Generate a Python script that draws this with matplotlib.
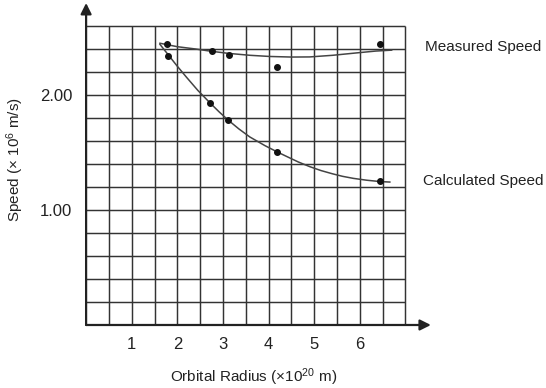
import matplotlib
matplotlib.use("Agg")
import matplotlib.pyplot as plt
import numpy as np

plt.rcParams["font.family"] = ["Liberation Sans", "DejaVu Sans"]
plt.rcParams["mathtext.fontset"] = "custom"
plt.rcParams["mathtext.rm"] = "Liberation Sans"
plt.rcParams["mathtext.default"] = "regular"

# measured / calculated speed points (x 10^20 m, x 10^5 m/s)
meas_x = [1.78, 2.77, 3.13, 4.19, 6.45]
meas_y = [2.44, 2.38, 2.35, 2.24, 2.44]
calc_x = [1.80, 2.72, 3.12, 4.19, 6.45]
calc_y = [2.34, 1.93, 1.78, 1.50, 1.25]

# hand-drawn best fit curves
meas_fit_x = [1.62, 2.0, 2.4, 2.75, 3.12, 3.6, 4.03, 4.5, 4.9, 5.4, 5.93, 6.35, 6.70]
meas_fit_y = [2.45, 2.42, 2.40, 2.38, 2.362, 2.345, 2.335, 2.33, 2.331, 2.345, 2.366, 2.382, 2.39]
calc_fit_x = [1.62, 1.80, 2.0, 2.2, 2.45, 2.72, 2.92, 3.12, 3.35, 3.59, 3.92, 4.19,
              4.4, 4.65, 4.91, 5.15, 5.4, 5.62, 5.86, 6.15, 6.45, 6.66]
calc_fit_y = [2.44, 2.35, 2.25, 2.155, 2.04, 1.93, 1.852, 1.78, 1.705, 1.635, 1.56, 1.505,
              1.465, 1.418, 1.376, 1.343, 1.315, 1.293, 1.275, 1.259, 1.247, 1.243]

x_ticks = [1, 2, 3, 4, 5, 6]
y_ticks = [1.0, 2.0]
y_ticklabels = ["1.00", "2.00"]

ink = "#222222"

fig = plt.figure(figsize=(5.46, 3.88), dpi=100)
ax = fig.add_axes([0.1577, 0.1624, 0.6348, 0.8358])
ax.set_xlim(0, 7.6)
ax.set_ylim(0, 2.82)
for s in ax.spines.values():
    s.set_visible(False)

# graph paper grid
gx = np.arange(0.5, 7.01, 0.5)
gy = np.arange(0.2, 2.61, 0.2)
ax.vlines(gx, 0, 2.6, color="#333333", lw=1.05, zorder=1)
ax.hlines(gy, 0, 7.0, color="#333333", lw=1.05, zorder=1)

# axes with arrow heads
arrow = dict(arrowstyle="-|>", lw=1.6, color=ink, mutation_scale=16,
             shrinkA=0, shrinkB=0)
ax.annotate("", xy=(0, 2.80), xytext=(0, 0), arrowprops=arrow,
            annotation_clip=False, zorder=3)
ax.annotate("", xy=(7.56, 0), xytext=(0, 0), arrowprops=arrow,
            annotation_clip=False, zorder=3)

ax.plot(meas_fit_x, meas_fit_y, color="#444444", lw=1.1, zorder=2,
        solid_joinstyle="round")
ax.plot(calc_fit_x, calc_fit_y, color="#444444", lw=1.1, zorder=2,
        solid_joinstyle="round")
ax.plot(meas_x, meas_y, "o", color="#111111", ms=4, zorder=4)
ax.plot(calc_x, calc_y, "o", color="#111111", ms=4, zorder=4)

ax.set_xticks(x_ticks)
ax.set_xticklabels([str(v) for v in x_ticks])
ax.set_yticks(y_ticks)
ax.set_yticklabels(y_ticklabels)
ax.tick_params(axis="x", length=0, pad=9, labelsize=12, labelcolor=ink)
ax.tick_params(axis="y", length=0, pad=10, labelsize=12, labelcolor=ink)

ax.text(7.43, 2.42, "Measured Speed", fontsize=11, color=ink,
        va="center", ha="left", clip_on=False)
ax.text(7.39, 1.25, "Calculated Speed", fontsize=11, color=ink,
        va="center", ha="left", clip_on=False)

fig.text(254 / 546, 1 - 377 / 388, r"Orbital Radius (×10$^{20}$ m)",
         fontsize=11, color=ink, ha="center", va="center")
fig.text(15 / 546, 1 - 160 / 388, r"Speed (× 10$^{6}$ m/s)",
         fontsize=11, color=ink, ha="center", va="center", rotation=90)

fig.savefig("out.png", dpi=100)
